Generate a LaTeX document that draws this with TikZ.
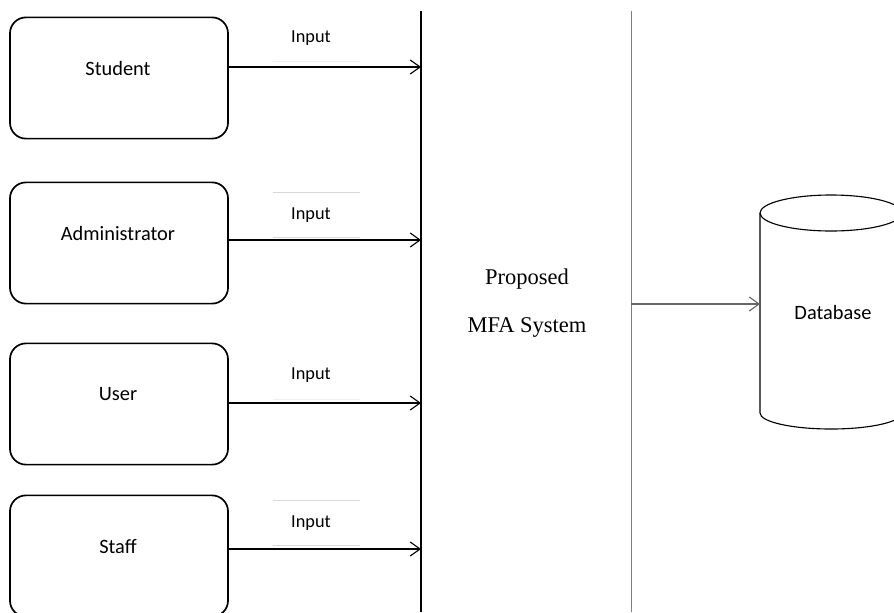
\documentclass[tikz,border=0pt]{standalone}
\usepackage{fontspec}
\setmainfont{Carlito}
\newfontfamily\sysfont{Liberation Serif}
\usetikzlibrary{arrows.meta}
\tikzset{
  actor/.style={draw, line width=1.2pt, rounded corners=0.4cm, minimum width=5.45cm, minimum height=3.03cm},
  actorname/.style={font=\fontsize{14.5}{17}\selectfont},
  flow/.style={-{Straight Barb[length=7pt,width=10pt]}, line width=0.8pt},
  boxline/.style={gray!30, line width=0.5pt},
}
\begin{document}
\begin{tikzpicture}[x=0.025cm, y=-0.025cm]
\useasboundingbox (0,0) rectangle (894,612);
\clip (0,0) rectangle (894,612);
% actors on the left
\node[actor] (student) at (119,78) {};
\node[actor] (admin) at (119,243) {};
\node[actor] (user) at (119,404) {};
\node[actor] (staff) at (119,556) {};
\node[actorname] (studentname) at (118,68) {Student};
\node[actorname] (adminname) at (118,233) {Administrator};
\node[actorname] (username) at (118,394) {User};
\node[actorname] (staffname) at (118,547) {Staff};
% system boundary
\coordinate (systop) at (421,11);
\coordinate (sysbot) at (421,612);
\draw[line width=0.9pt] (systop) -- (sysbot);
\coordinate (dbtop) at (631,11);
\coordinate (dbbot) at (631,612);
\draw[gray, line width=0.7pt] (dbtop) -- (dbbot);
\node[font=\sysfont\fontsize{16}{19}\selectfont] (proposed) at (527,279) {Proposed};
\node[font=\sysfont\fontsize{16}{19}\selectfont] (mfa) at (527,327) {MFA System};
% inputs
\coordinate (in1) at (421,67);
\coordinate (in2) at (421,240);
\coordinate (in3) at (421,403);
\coordinate (in4) at (421,549);
\draw[flow] (student.east |- in1) -- (in1);
\draw[flow] (admin.east |- in2) -- (in2);
\draw[flow] (user.east |- in3) -- (in3);
\draw[flow] (staff.east |- in4) -- (in4);
\node[font=\fontsize{13}{15}\selectfont] (input1) at (311,38) {Input};
\node[font=\fontsize{13}{15}\selectfont] (input2) at (311,215) {Input};
\node[font=\fontsize{13}{15}\selectfont] (input3) at (311,375) {Input};
\node[font=\fontsize{13}{15}\selectfont] (input4) at (311,523) {Input};
\draw[boxline, gray!12] (273,61) -- (360,61);
\draw[boxline] (273,192) -- (360,192);
\draw[boxline] (273,237) -- (360,237);
\draw[boxline, gray!12] (273,399) -- (360,399);
\draw[boxline] (273,500) -- (360,500);
\draw[boxline] (273,545) -- (360,545);
% database
\draw[line width=0.8pt] (831,213) ellipse[x radius=71, y radius=18];
\draw[line width=0.8pt] (760,213) -- (760,413) arc[start angle=180, end angle=0, x radius=71, y radius=16] -- (902,213);
\node[font=\fontsize{14.5}{17}\selectfont] (db) at (833,312) {Database};
\coordinate (dbleft) at (760,304);
\coordinate (out) at (631,304);
\draw[flow, gray!80!black] (out) -- (dbleft);
\end{tikzpicture}
\end{document}
